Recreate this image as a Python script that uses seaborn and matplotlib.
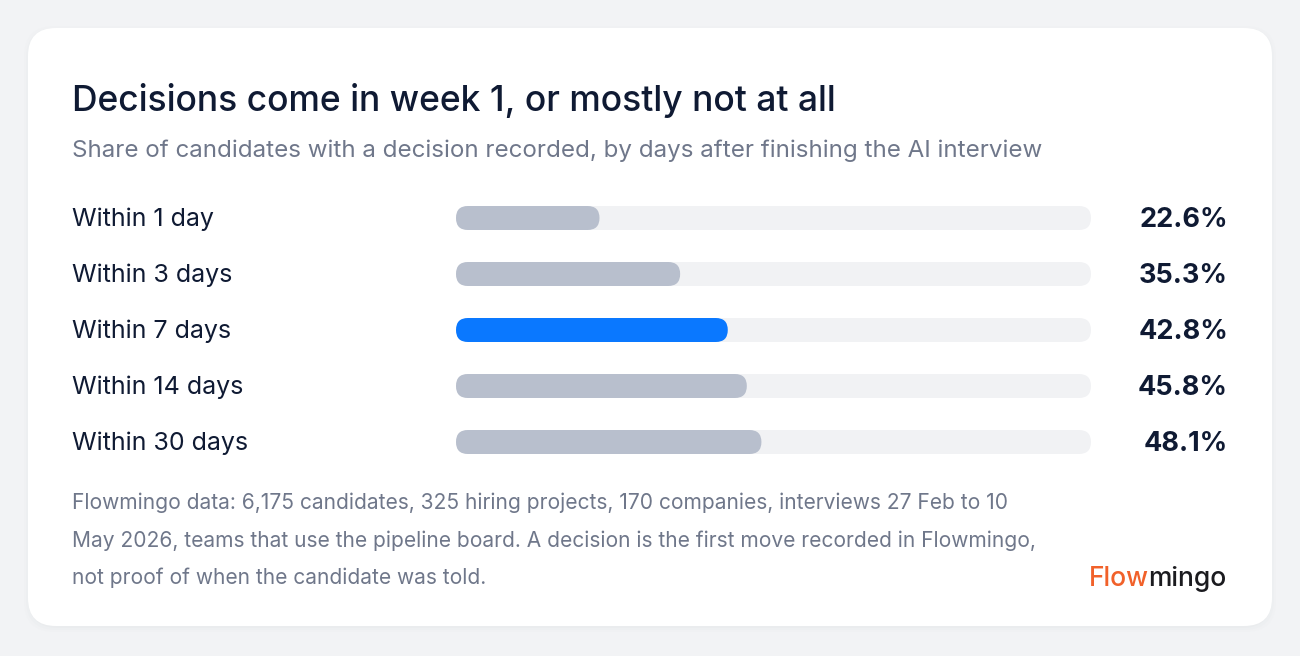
import numpy as np
import pandas as pd
import seaborn as sns
import matplotlib.pyplot as plt
from matplotlib.patches import FancyBboxPatch
from matplotlib.transforms import blended_transform_factory

# data
labels = ['Within 1 day', 'Within 3 days', 'Within 7 days', 'Within 14 days', 'Within 30 days']
values = [22.6, 35.3, 42.8, 45.8, 48.1]
highlight = 'Within 7 days'

title = 'Decisions come in week 1, or mostly not at all'
subtitle = 'Share of candidates with a decision recorded, by days after finishing the AI interview'
note = ['Flowmingo data: 6,175 candidates, 325 hiring projects, 170 companies, interviews 27 Feb to 10',
        'May 2026, teams that use the pipeline board. A decision is the first move recorded in Flowmingo,',
        'not proof of when the candidate was told.']

# colours
BG = '#f2f3f5'
CARD = '#ffffff'
TRACK = '#f1f2f4'
BAR = '#b8bfcd'
BLUE = '#0a78ff'
INK = '#0f1a33'
MUTED = '#6f778a'

sns.set_theme(style='white')
plt.rcParams['font.family'] = ['Inter', 'DejaVu Sans']

W, H = 1300, 656
fig = plt.figure(figsize=(W / 100, H / 100), dpi=100, facecolor=BG)

# background axes in pixel coords
bg = fig.add_axes([0, 0, 1, 1])
bg.set_xlim(0, W)
bg.set_ylim(H, 0)
bg.axis('off')
for i, a in enumerate([0.035, 0.025, 0.015]):
    bg.add_patch(FancyBboxPatch((28 - i * 2, 30 - i * 2), 1244 + i * 4, 598 + i * 4,
                                boxstyle='round,pad=0,rounding_size=30',
                                fc='#9aa0ad', ec='none', alpha=a))
bg.add_patch(FancyBboxPatch((28, 28), 1244, 598, boxstyle='round,pad=0,rounding_size=28',
                            fc=CARD, ec='none'))

bg.text(72, 100, title, fontsize=25.5, fontweight='medium', color=INK, va='center', ha='left')
bg.text(72, 151, subtitle, fontsize=17.4, color=MUTED, va='center', ha='left')
for j, line in enumerate(note):
    bg.text(72, 503 + j * 37.5, line, fontsize=15.1, color=MUTED, va='center', ha='left')

# logo
t1 = bg.text(1089, 579, 'Flow', fontsize=19, fontweight='medium', color='#f1612a',
             va='center', ha='left')
fig.canvas.draw()
bb = t1.get_window_extent(renderer=fig.canvas.get_renderer())
bg.text(1089 + bb.width - 1, 579, 'mingo', fontsize=19, fontweight='medium', color='#1b1b1f',
        va='center', ha='left')

# bar axes
top, row_h = 190, 56
ax = fig.add_axes([456 / W, 1 - (top + row_h * len(labels)) / H, 635 / W, row_h * len(labels) / H])
df = pd.DataFrame({'label': labels, 'value': values, 'track': [100] * len(labels)})
bw = 24 / row_h
sns.barplot(data=df, x='track', y='label', color=TRACK, width=bw, ax=ax, saturation=1)
palette = {l: (BLUE if l == highlight else BAR) for l in labels}
sns.barplot(data=df, x='value', y='label', hue='label', palette=palette, width=bw,
            ax=ax, saturation=1, legend=False)
ax.set_xlim(0, 100)
ax.set_ylim(len(labels) - 0.5, -0.5)
ax.axis('off')

# rounded caps
px_x = 100 / 635
px_y = 1 / row_h
r = 12
for p in list(ax.patches):
    x0, y0, w, h = p.get_x(), p.get_y(), p.get_width(), p.get_height()
    fc = p.get_facecolor()
    p.remove()
    ax.add_patch(FancyBboxPatch((x0, y0), w, h,
                                boxstyle=f'round,pad=0,rounding_size={r * px_x}',
                                mutation_aspect=px_y / px_x, fc=fc, ec='none'))

tr = blended_transform_factory(bg.transData, ax.transData)
for i, (l, v) in enumerate(zip(labels, values)):
    ax.text(72, i + 0.03, l, transform=tr, fontsize=18, color=INK, va='center', ha='left')
    ax.text(1228, i + 0.03, f'{v:.1f}%', transform=tr, fontsize=19.5, fontweight='bold', color=INK,
            va='center', ha='right')

fig.savefig('out.png', dpi=100, facecolor=BG)
